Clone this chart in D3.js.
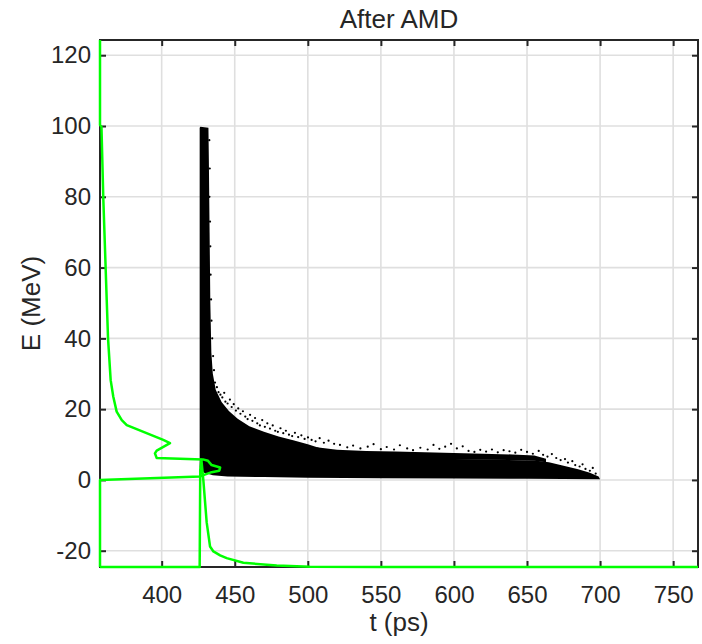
<!DOCTYPE html>
<html>
<head>
    <meta charset="utf-8">
    <title>After AMD</title>
    <script src="https://d3js.org/d3.v7.min.js"></script>
    <style>
        body {
            margin: 0;
            background: #fff;
            font-family: "Liberation Sans", Arial, sans-serif;
        }
        .grid line {
            stroke: #dfdfdf;
            stroke-width: 1.6px;
        }
        .axis line {
            stroke: #262626;
            stroke-width: 2px;
        }
        .axis text {
            fill: #262626;
            font-size: 24px;
            font-family: "Liberation Sans", Arial, sans-serif;
        }
        .label {
            fill: #262626;
            font-size: 26px;
        }
    </style>
</head>
<body>
    <svg id="chart" width="702" height="644"></svg>

    <script>
        // dense part of the scatter, outline (t in ps, E in MeV)
        const denseT = [426, 426, 426.5, 432, 432.3, 432.8, 433.3, 434, 435, 437, 441, 446, 452, 460, 470, 480, 490, 500, 508, 515, 530, 560, 600, 630, 655, 665, 675, 685, 693, 699, 700, 650, 600, 550, 500, 470, 445, 435, 429];
        const denseE = [3.5, 99.5, 99.8, 99.5, 90, 70, 50, 36, 30, 25.5, 22, 19.5, 17.3, 15.2, 13.6, 12.3, 11.2, 10.1, 9.0, 6.6, 6.3, 6.1, 5.9, 5.7, 5.5, 5, 4, 3, 2, 1, 0.2, 0.3, 0.4, 0.5, 0.6, 0.8, 1.0, 1.3, 2.0];

        // thin strip sitting above the tail
        const stripT = [506, 520, 540, 560, 580, 600, 620, 640, 655, 663];
        const stripTop = [9.2, 8.5, 8.2, 8.0, 7.8, 7.6, 7.4, 7.2, 6.9, 6.0];
        const stripBottom = [6.0, 6.0, 5.9, 5.9, 5.8, 5.8, 5.7, 5.6, 5.4, 5.0];

        // loose points round the edges
        const looseT = [
            432.6, 432.9, 432.7, 433.1, 433.3, 433.5, 433.8, 434.1, 434.6, 435.2, 435.8,
            436.5, 437.8, 438.9, 440.2, 441.5, 442.8, 443.6, 445.1, 446.7, 447.9, 449.3, 450.8, 452.4, 453.9, 455.6,
            457.2, 458.8, 460.5, 462.1, 463.9, 465.4, 467.2, 468.8, 470.6, 472.3, 474.1, 476.0, 477.7, 479.5, 481.3,
            483.2, 485.0, 487.1, 489.3, 491.2, 493.4, 495.6, 497.8, 500.1, 502.6, 505.3, 508.1, 511.0, 514.2, 518.0,
            522, 527, 531, 536, 541, 545, 550, 554, 559, 563, 568, 572, 577, 582, 586, 590, 594, 598, 602, 606, 610,
            614, 618, 622, 626, 630, 634, 638, 642, 646, 650, 654, 658, 661, 664, 667, 670, 673, 676, 678, 681, 683,
            686, 688, 690, 693, 695, 697];
        const looseE = [
            96, 88, 80, 73, 66, 58, 51, 45, 40, 35, 31,
            27.5, 26.2, 24.8, 24.1, 23.3, 24.6, 22.1, 21.6, 22.7, 20.6, 21.4, 19.6, 20.2, 18.7, 19.4,
            17.9, 17.2, 18.4, 16.7, 17.5, 16.0, 15.4, 16.9, 15.0, 16.0, 14.5, 15.4, 13.9, 13.6, 14.6,
            13.2, 13.9, 12.8, 12.4, 13.3, 12.1, 12.6, 11.6, 12.0, 11.3, 10.9, 11.8, 10.5, 11.1, 10.2,
            9.9, 9.2, 9.7, 8.9, 9.4, 10.1, 8.7, 9.3, 8.6, 9.8, 8.9, 8.4, 9.1, 8.6, 9.9, 8.8, 9.4, 10.2, 8.9, 9.5, 8.2,
            7.9, 8.5, 8.0, 8.6, 7.8, 8.4, 8.1, 7.7, 8.5, 7.9, 7.4, 8.2, 7.1, 6.6, 7.3, 6.2, 5.6, 5.9, 4.9, 5.3, 4.2,
            3.8, 4.4, 3.1, 2.6, 3.4, 1.8];

        // projected E distribution (left green curve), pairs in drawing order
        const specE = [-24.6, 0, 1.0, 2.2, 2.6, 3.5, 4.2, 5.4, 5.8, 6.2, 7.5, 8.3, 10.4, 11.3, 15.5, 16.9, 19.3, 23.5, 28.2, 40, 50.8, 79, 99.8, 100.3, 124.3];
        const specT = [357.8, 357.8, 426.2, 434.2, 439.4, 440, 434.2, 431.7, 428.2, 396.6, 395.4, 396.6, 405.7, 401.1, 376.1, 372.7, 369.2, 366.9, 365.1, 363.3, 362.4, 360.1, 358.8, 357.8, 357.8];

        // projected t distribution (bottom green curve)
        const histT = [357.8, 426.0, 426.4, 427.2, 428.5, 430.8, 433.1, 435.4, 440, 444.5, 455.9, 478.7, 501.5, 550, 767];
        const histE = [-24.6, -24.6, 3, 5.6, 0, -12, -18.8, -20.2, -21.3, -22.1, -23.4, -24.2, -24.5, -24.6, -24.6];

        const xTicks = [400, 450, 500, 550, 600, 650, 700, 750];
        const yTicks = [-20, 0, 20, 40, 60, 80, 100, 120];

        const margin = {top: 40, right: 4, bottom: 77, left: 100};
        const width = 702 - margin.left - margin.right;
        const height = 644 - margin.top - margin.bottom;

        const svg = d3.select('#chart');
        const g = svg.append('g')
            .attr('transform', `translate(${margin.left},${margin.top})`);

        const x = d3.scaleLinear().domain([357.8, 767]).range([0, width]);
        const y = d3.scaleLinear().domain([-24.6, 124.3]).range([height, 0]);

        // grid
        const grid = g.append('g').attr('class', 'grid');
        grid.selectAll('.vx').data(xTicks).enter().append('line')
            .attr('x1', d => x(d)).attr('x2', d => x(d))
            .attr('y1', 0).attr('y2', height);
        grid.selectAll('.hy').data(yTicks).enter().append('line')
            .attr('y1', d => y(d)).attr('y2', d => y(d))
            .attr('x1', 0).attr('x2', width);

        // box and ticks
        g.append('rect')
            .attr('width', width).attr('height', height)
            .attr('fill', 'none')
            .attr('stroke', '#262626')
            .attr('stroke-width', 2);

        const plain = d => String(d);
        const ax = g.append('g').attr('class', 'axis')
            .attr('transform', `translate(0,${height})`)
            .call(d3.axisBottom(x).tickValues(xTicks).tickFormat(plain).tickSizeInner(-6).tickSizeOuter(0).tickPadding(19));
        const ay = g.append('g').attr('class', 'axis')
            .call(d3.axisLeft(y).tickValues(yTicks).tickFormat(plain).tickSizeInner(-6).tickSizeOuter(0).tickPadding(9));
        const axTop = g.append('g').attr('class', 'axis')
            .call(d3.axisTop(x).tickValues(xTicks).tickSizeInner(-6).tickSizeOuter(0).tickFormat(''));
        const ayRight = g.append('g').attr('class', 'axis')
            .attr('transform', `translate(${width},0)`)
            .call(d3.axisRight(y).tickValues(yTicks).tickSizeInner(-6).tickSizeOuter(0).tickFormat(''));
        [ax, ay, axTop, ayRight].forEach(a => a.select('.domain').remove());

        // scatter
        const outline = d3.line().x(d => x(d[0])).y(d => y(d[1]));
        g.append('path')
            .attr('d', outline(d3.zip(denseT, denseE)) + 'Z')
            .attr('fill', '#000');

        const strip = d3.area()
            .x(d => x(d[0]))
            .y0(d => y(d[2]))
            .y1(d => y(d[1]));
        g.append('path')
            .attr('d', strip(d3.zip(stripT, stripTop, stripBottom)))
            .attr('fill', '#000');

        g.selectAll('.dot')
            .data(d3.zip(looseT, looseE))
            .enter().append('circle')
            .attr('class', 'dot')
            .attr('cx', d => x(d[0]))
            .attr('cy', d => y(d[1]))
            .attr('r', 1.1)
            .attr('fill', '#000');

        // projections
        g.append('path')
            .attr('d', outline(d3.zip(specT, specE)))
            .attr('fill', 'none')
            .attr('stroke', '#00ff00')
            .attr('stroke-width', 2.5)
            .attr('stroke-linejoin', 'round');
        g.append('path')
            .attr('d', outline(d3.zip(histT, histE)))
            .attr('fill', 'none')
            .attr('stroke', '#00ff00')
            .attr('stroke-width', 2.5)
            .attr('stroke-linejoin', 'round');

        // labels
        svg.append('text')
            .attr('class', 'label')
            .attr('x', margin.left + width / 2)
            .attr('y', 28)
            .style('text-anchor', 'middle')
            .text('After AMD');
        svg.append('text')
            .attr('class', 'label')
            .attr('x', margin.left + width / 2)
            .attr('y', 631)
            .style('text-anchor', 'middle')
            .text('t (ps)');
        svg.append('text')
            .attr('class', 'label')
            .attr('transform', `translate(40,${margin.top + height / 2}) rotate(-90)`)
            .style('text-anchor', 'middle')
            .text('E (MeV)');
    </script>
</body>
</html>
